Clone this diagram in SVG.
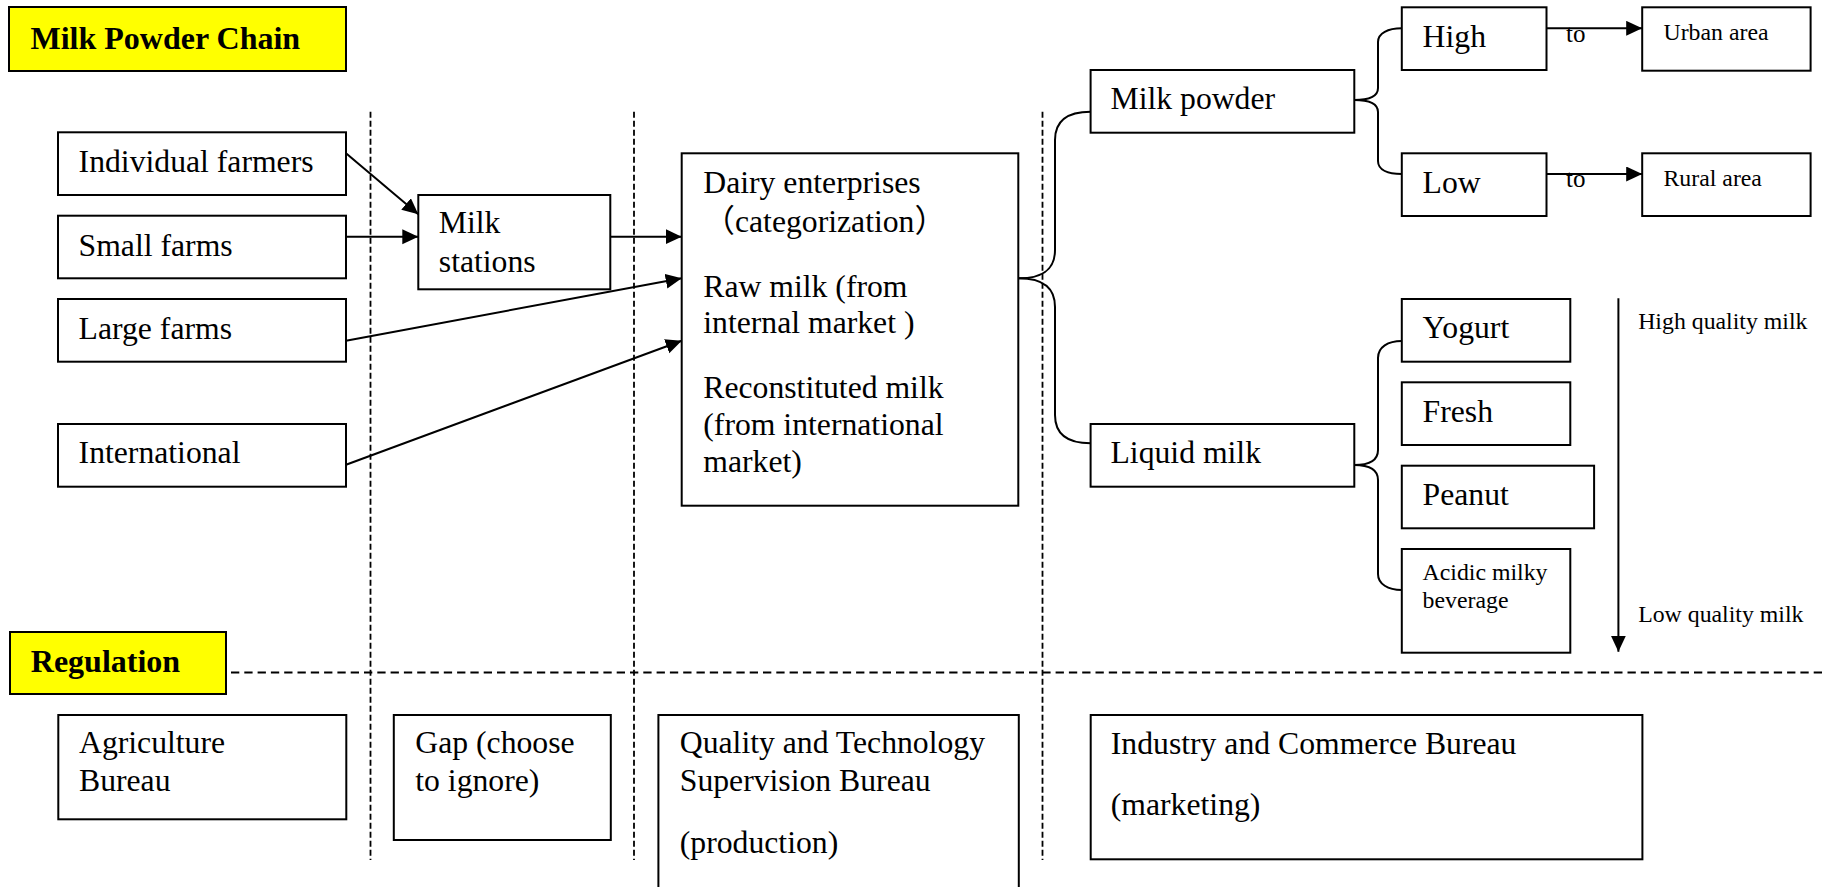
<svg xmlns="http://www.w3.org/2000/svg" width="1827" height="887" viewBox="0 0 1827 887">
<style>
  .box { fill: #ffffff; stroke: #000000; stroke-width: 2; }
  .ybox { fill: #ffff00; stroke: #000000; stroke-width: 2; }
  .t { font-family: "Liberation Serif", "Noto Sans CJK SC", serif; font-size: 31.7px; fill: #000000; }
  .s { font-family: "Liberation Serif", "Noto Sans CJK SC", serif; font-size: 23.8px; fill: #000000; }
  .to { font-family: "Liberation Serif", serif; font-size: 25px; fill: #000000; }
  .b { font-family: "Liberation Serif", serif; font-size: 32px; font-weight: bold; fill: #000000; }
  .dash { stroke: #000000; stroke-width: 1.8; stroke-dasharray: 6 3; fill: none; }
  .hdash { stroke: #000000; stroke-width: 2; stroke-dasharray: 8.3 5; fill: none; }
  .arr { stroke: #000000; stroke-width: 2; fill: none; marker-end: url(#ah); }
  .brace { stroke: #000000; stroke-width: 2; fill: none; }
</style>
<defs>
  <marker id="ah" markerUnits="userSpaceOnUse" markerWidth="17" markerHeight="16" refX="16" refY="7.5" orient="auto">
    <path d="M0,0 L16,7.5 L0,15 z" fill="#000000"/>
  </marker>
</defs>
<rect x="0" y="0" width="1827" height="887" fill="#ffffff"/>

<g id="separators">
  <line class="dash" x1="370.5" y1="111.7" x2="370.5" y2="860"/>
  <line class="dash" x1="634" y1="111.7" x2="634" y2="860"/>
  <line class="dash" x1="1042.5" y1="111.7" x2="1042.5" y2="860"/>
  <line class="hdash" x1="231" y1="672.5" x2="1827" y2="672.5"/>
</g>

<g id="title-chain">
  <rect class="ybox" x="9" y="7" width="337" height="64"/>
  <text class="b" x="30.5" y="48.5">Milk Powder Chain</text>
</g>
<g id="title-regulation">
  <rect class="ybox" x="10" y="632" width="216" height="62"/>
  <text class="b" x="30.8" y="671.7">Regulation</text>
</g>

<g id="individual-farmers">
  <rect class="box" x="58" y="132.3" width="288" height="62.7"/>
  <text class="t" x="78.6" y="171.7">Individual farmers</text>
</g>
<g id="small-farms">
  <rect class="box" x="58" y="215.7" width="288" height="62.6"/>
  <text class="t" x="78.6" y="256">Small farms</text>
</g>
<g id="large-farms">
  <rect class="box" x="58" y="299" width="288" height="62.7"/>
  <text class="t" x="78.6" y="339.3">Large farms</text>
</g>
<g id="international">
  <rect class="box" x="58" y="424" width="288" height="62.7"/>
  <text class="t" x="78.6" y="462.7">International</text>
</g>
<g id="milk-stations">
  <rect class="box" x="418.3" y="195" width="192" height="94.3"/>
  <text class="t" x="438.8" y="233">Milk</text>
  <text class="t" x="438.8" y="271.7">stations</text>
</g>
<g id="dairy-enterprises">
  <rect class="box" x="681.7" y="153.3" width="336.6" height="352.4"/>
  <text class="t" x="703.3" y="193.3">Dairy enterprises</text>
  <text class="t" x="703.3" y="231.7">（categorization）</text>
  <text class="t" x="703.3" y="296.7">Raw milk (from</text>
  <text class="t" x="703.3" y="333.3">internal market )</text>
  <text class="t" x="703.3" y="398.3">Reconstituted milk</text>
  <text class="t" x="703.3" y="435">(from international</text>
  <text class="t" x="703.3" y="471.7">market)</text>
</g>
<g id="milk-powder">
  <rect class="box" x="1090.6" y="70" width="263.7" height="62.7"/>
  <text class="t" x="1110.5" y="109.3">Milk powder</text>
</g>
<g id="liquid-milk">
  <rect class="box" x="1090.6" y="424" width="263.7" height="62.7"/>
  <text class="t" x="1110.5" y="463.3">Liquid milk</text>
</g>
<g id="high">
  <rect class="box" x="1401.8" y="7.3" width="144.7" height="62.7"/>
  <text class="t" x="1422.6" y="46.7">High</text>
</g>
<g id="low">
  <rect class="box" x="1401.8" y="153.3" width="144.7" height="62.7"/>
  <text class="t" x="1422.6" y="192.7">Low</text>
</g>
<g id="urban-area">
  <rect class="box" x="1642.2" y="7.3" width="168.4" height="63.4"/>
  <text class="s" x="1663.5" y="40">Urban area</text>
</g>
<g id="rural-area">
  <rect class="box" x="1642.2" y="153.3" width="168.4" height="62.7"/>
  <text class="s" x="1663.5" y="185.7">Rural area</text>
</g>
<g id="yogurt">
  <rect class="box" x="1401.8" y="299" width="168.5" height="62.7"/>
  <text class="t" x="1422.6" y="338.3">Yogurt</text>
</g>
<g id="fresh">
  <rect class="box" x="1401.8" y="382.3" width="168.5" height="62.7"/>
  <text class="t" x="1422.6" y="421.7">Fresh</text>
</g>
<g id="peanut">
  <rect class="box" x="1401.8" y="465.7" width="192.3" height="62.6"/>
  <text class="t" x="1422.6" y="505">Peanut</text>
</g>
<g id="acidic">
  <rect class="box" x="1401.8" y="549" width="168.5" height="103.7"/>
  <text class="s" x="1422.6" y="580">Acidic milky</text>
  <text class="s" x="1422.6" y="608.3">beverage</text>
</g>
<g id="quality-labels">
  <text class="s" x="1638.2" y="329.3">High quality milk</text>
  <text class="s" x="1638.2" y="621.7">Low quality milk</text>
</g>

<g id="agriculture-bureau">
  <rect class="box" x="58.3" y="715" width="288" height="104.3"/>
  <text class="t" x="79" y="753.3">Agriculture</text>
  <text class="t" x="79" y="790.7">Bureau</text>
</g>
<g id="gap">
  <rect class="box" x="393.8" y="715" width="217" height="125"/>
  <text class="t" x="415.3" y="753.3">Gap (choose</text>
  <text class="t" x="415.3" y="790.7">to ignore)</text>
</g>
<g id="quality-bureau">
  <rect class="box" x="658.4" y="715" width="360.4" height="190"/>
  <text class="t" x="679.8" y="753.3">Quality and Technology</text>
  <text class="t" x="679.8" y="790.7">Supervision Bureau</text>
  <text class="t" x="679.8" y="853.3">(production)</text>
</g>
<g id="industry-bureau">
  <rect class="box" x="1090.7" y="715" width="551.7" height="144.3"/>
  <text class="t" x="1110.8" y="754">Industry and Commerce Bureau</text>
  <text class="t" x="1110.8" y="815">(marketing)</text>
</g>

<g id="connectors">
  <line class="arr" x1="346" y1="153.3" x2="418.3" y2="214.3"/>
  <line class="arr" x1="346" y1="236.7" x2="418.3" y2="236.7"/>
  <line class="arr" x1="610.3" y1="236.7" x2="681.7" y2="236.7"/>
  <line class="arr" x1="346" y1="340.7" x2="681.7" y2="278.3"/>
  <line class="arr" x1="346" y1="464.7" x2="681.7" y2="340.7"/>
  <line class="arr" x1="1546.5" y1="28.3" x2="1642.2" y2="28.3"/>
  <line class="arr" x1="1546.5" y1="174" x2="1642.2" y2="174"/>
  <line class="arr" x1="1618.4" y1="298.3" x2="1618.4" y2="651.7"/>
  <path class="brace" d="M1018.3,278.3 C1045,278.3 1055,268 1055,250 L1055,140 C1055,120 1068,111.7 1090.6,111.7"/>
  <path class="brace" d="M1018.3,278.3 C1045,278.3 1055,289 1055,307 L1055,415 C1055,435 1068,443.3 1090.6,443.3"/>
  <path class="brace" d="M1354.3,100 C1370,100 1378,96 1378,88 L1378,42 C1378,33 1388,28.3 1401.8,28.3"/>
  <path class="brace" d="M1354.3,100 C1370,100 1378,104 1378,112 L1378,161 C1378,170 1388,174 1401.8,174"/>
  <path class="brace" d="M1354.3,465 C1370,465 1378,460 1378,450 L1378,358 C1378,347 1388,341 1401.8,341"/>
  <path class="brace" d="M1354.3,465 C1370,465 1378,470 1378,480 L1378,574 C1378,584 1388,590 1401.8,590"/>
  <text class="to" x="1566" y="42.3">to</text>
  <text class="to" x="1566" y="187">to</text>
</g>
</svg>
